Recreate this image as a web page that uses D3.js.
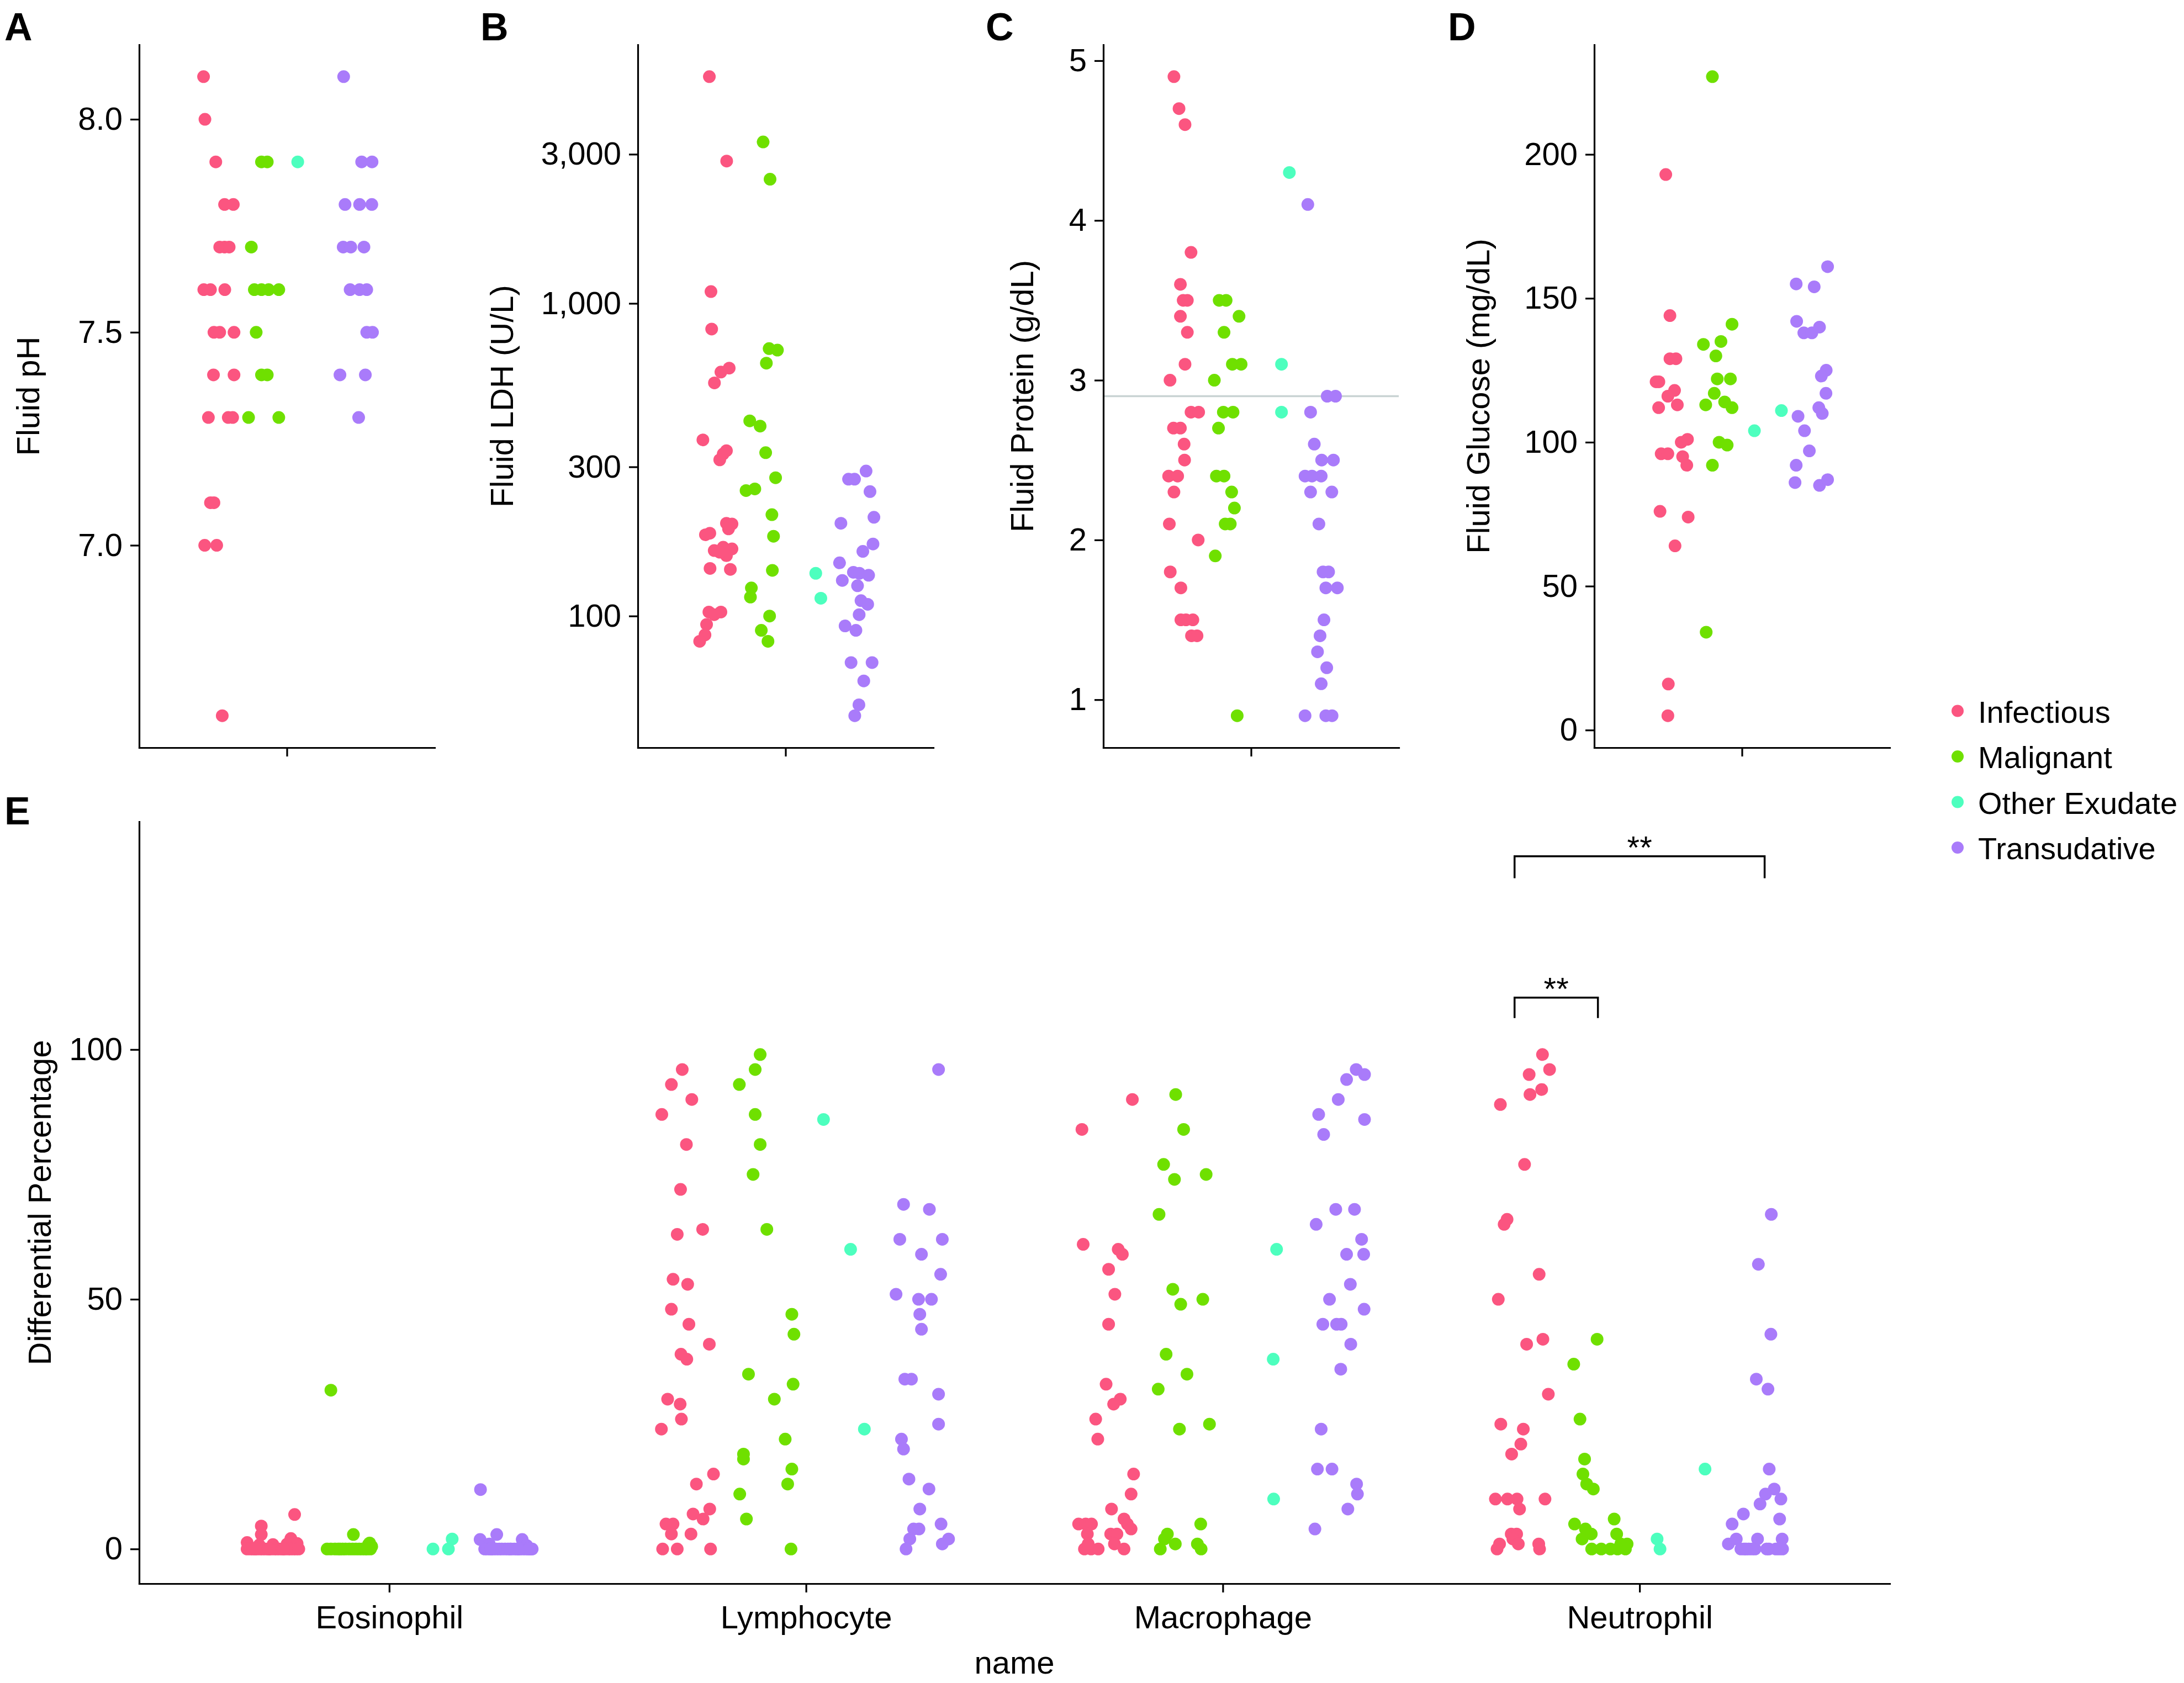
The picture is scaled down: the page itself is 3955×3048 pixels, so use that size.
<!DOCTYPE html>
<html>
<head>
<meta charset="utf-8">
<title>Pleural fluid chemistry and cell differential by diagnosis</title>
<script src="https://d3js.org/d3.v7.min.js"></script>
<style>
  body { margin: 0; background: #fff; }
  text { font-family: "Liberation Sans", Arial, Helvetica, sans-serif; fill: #000; }
</style>
</head>
<body>
<svg id="chart" width="3955" height="3048"></svg>
<script>
// diagnosis groups and their colours
var groups = ["Infectious", "Malignant", "Other Exudate", "Transudative"];
var groupColors = ["#fb5580", "#6fe000", "#4dffbe", "#a97bfa"];

// every point is [value, jitter]; jitter is the sideways offset
// (1 = half the distance between two neighbouring groups)

// A - fluid pH
var phInfectious = [[8.1,-0.61],[8.0,-0.55],[7.9,-0.08],[7.8,0.3],[7.8,0.68],[7.7,0.09],[7.7,0.3],[7.7,0.5],[7.6,-0.6],[7.6,-0.31],[7.6,0.31],[7.5,-0.16],[7.5,0.09],[7.5,0.71],[7.4,-0.18],[7.4,0.71],[7.3,-0.4],[7.3,0.46],[7.3,0.65],[7.1,-0.31],[7.1,-0.16],[7.0,-0.56],[7.0,-0.04],[6.6,0.2]];
var phMalignant = [[7.9,-0.1],[7.9,0.15],[7.7,-0.54],[7.6,-0.41],[7.6,-0.1],[7.6,0.21],[7.6,0.65],[7.5,-0.33],[7.4,-0.1],[7.4,0.15],[7.3,-0.66],[7.3,0.65]];
var phOther = [[7.9,-0.53]];
var phTransudative = [[8.1,-0.54],[7.9,0.24],[7.9,0.69],[7.8,-0.48],[7.8,0.15],[7.8,0.68],[7.7,-0.56],[7.7,-0.23],[7.7,0.34],[7.6,-0.26],[7.6,0.15],[7.6,0.46],[7.5,0.46],[7.5,0.71],[7.4,-0.7],[7.4,0.4],[7.3,0.11]];
var phTicks = [7.0, 7.5, 8.0];

// B - fluid LDH (U/L), log axis
var ldhInfectious = [[5312,-0.3],[2853,0.45],[1091,-0.23],[828,-0.2],[603,0.2],[621,0.56],[557,-0.08],[366,-0.58],[338,0.44],[330,0.3],[316,0.15],[198,0.44],[197,0.68],[190,0.53],[182,-0.47],[184,-0.28],[166,0.3],[162,-0.09],[164,0.68],[156,0.44],[160,0.15],[142,-0.27],[141,0.61],[103,-0.32],[101,-0.09],[103,0.2],[94,-0.42],[87,-0.49],[83,-0.72]];
var ldhMalignant = [[3285,0.03],[2496,0.33],[717,0.29],[709,0.65],[644,0.17],[421,-0.55],[405,-0.1],[333,0.14],[277,0.57],[252,-0.71],[255,-0.33],[211,0.41],[180,0.48],[140,0.43],[123,-0.48],[115,-0.52],[100,0.31],[90,-0.05],[83,0.24]];
var ldhOther = [[137,0.31],[114,0.53]];
var ldhTransudative = [[291,0.49],[274,-0.27],[274,-0.01],[250,0.66],[207,0.83],[198,-0.6],[170,0.79],[161,0.35],[148,-0.66],[138,-0.06],[137,0.2],[135,0.6],[130,-0.54],[125,0.12],[112,0.27],[109,0.56],[101,0.19],[93,-0.42],[90,0.05],[71,-0.16],[71,0.75],[62,0.39],[52,0.18],[48,0]];
var ldhTicks = [100, 300, 1000, 3000];

// C - fluid protein (g/dL)
var protInfectious = [[4.9,-0.34],[4.7,-0.12],[4.6,0.14],[3.8,0.4],[3.6,-0.06],[3.5,0.06],[3.5,0.24],[3.4,-0.06],[3.3,0.24],[3.1,0.14],[3.0,-0.51],[2.8,0.4],[2.8,0.73],[2.7,-0.36],[2.7,-0.06],[2.6,0.1],[2.5,0.12],[2.4,-0.57],[2.4,-0.18],[2.3,-0.34],[2.1,-0.54],[2.0,0.71],[1.8,-0.5],[1.7,-0.04],[1.5,-0.04],[1.5,0.18],[1.5,0.48],[1.4,0.42],[1.4,0.66]];
var protMalignant = [[3.5,-0.38],[3.5,-0.08],[3.4,0.48],[3.3,-0.17],[3.1,0.19],[3.1,0.57],[3.0,-0.59],[2.8,-0.2],[2.8,0.22],[2.7,-0.41],[2.4,-0.5],[2.4,-0.17],[2.3,0.16],[2.2,0.28],[2.1,-0.12],[2.1,0.1],[1.9,-0.55],[0.9,0.4]];
var protOther = [[4.3,0.66],[3.1,0.32],[2.8,0.32]];
var protTransudative = [[4.1,-0.54],[2.9,0.3],[2.9,0.66],[2.8,-0.42],[2.6,-0.26],[2.5,0.06],[2.5,0.57],[2.4,-0.66],[2.4,-0.36],[2.4,0.04],[2.3,-0.42],[2.3,0.5],[2.1,-0.06],[1.8,0.12],[1.8,0.36],[1.7,0.24],[1.7,0.74],[1.5,0.16],[1.4,-0.01],[1.3,-0.12],[1.2,0.28],[1.1,0.04],[0.9,-0.66],[0.9,0.24],[0.9,0.51]];
var protTicks = [1, 2, 3, 4, 5];
var protRefLine = 2.9;

// D - fluid glucose (mg/dL)
var gluInfectious = [[193,-0.3],[144,-0.12],[129,-0.12],[129,0.14],[121,-0.72],[121,-0.6],[118,0.08],[116,-0.21],[112,-0.61],[113,0.2],[100,0.37],[101,0.64],[96,-0.5],[96,-0.21],[95,0.43],[92,0.61],[76,-0.55],[74,0.67],[64,0.1],[16,-0.19],[5,-0.21]];
var gluMalignant = [[227,-0.28],[141,0.57],[134,-0.67],[135,0.09],[130,-0.13],[122,-0.07],[122,0.5],[117,-0.2],[113,-0.57],[114,0.25],[112,0.57],[100,0.01],[99,0.36],[92,-0.28],[34,-0.55]];
var gluOther = [[104,-0.46],[111,0.71]];
var gluTransudative = [[161,0.71],[155,-0.65],[154,0.13],[142,-0.63],[138,-0.32],[138,0.03],[140,0.36],[125,0.65],[123,0.44],[117,0.64],[112,0.33],[110,0.48],[109,-0.57],[104,-0.29],[97,-0.08],[92,-0.65],[86,-0.7],[85,0.36],[87,0.71]];
var gluTicks = [0, 50, 100, 150, 200];

// E - differential percentage by cell type
var cellTypes = ["Eosinophil", "Lymphocyte", "Macrophage", "Neutrophil"];
var eosInfectious = [[4.6,-0.07],[2.9,-0.07],[6.9,0.73],[2.1,0.64],[1.3,-0.41],[0.8,-0.12],[0.9,0.21],[1,0.55],[1.1,0.79],[0,-0.41],[0,-0.33],[0,-0.27],[0,-0.18],[0,-0.1],[0,-0.04],[0,0.03],[0,0.1],[0,0.16],[0,0.24],[0,0.3],[0,0.37],[0,0.43],[0,0.5],[0,0.58],[0,0.63],[0,0.7],[0,0.76],[0,0.83],[0,-0.22],[0,0.12],[0,0.46]];
var eosMalignant = [[31.8,-0.4],[2.9,0.14],[1.2,0.53],[0.9,0.5],[0.5,0.58],[0,-0.49],[0,-0.4],[0,-0.3],[0,-0.22],[0,-0.12],[0,-0.05],[0,0.04],[0,0.12],[0,0.2],[0,0.28],[0,0.35],[0,0.42],[0,0.47],[0,0.55],[0,-0.18]];
var eosOther = [[0,0.05],[0,0.42],[2,0.51]];
var eosTransudative = [[11.9,-0.81],[2.9,-0.42],[1.9,-0.82],[1.9,0.19],[1,-0.6],[0.7,0.3],[0,-0.71],[0,-0.65],[0,-0.58],[0,-0.5],[0,-0.43],[0,-0.36],[0,-0.3],[0,-0.22],[0,-0.15],[0,-0.08],[0,0],[0,0.06],[0,0.13],[0,0.2],[0,0.27],[0,0.33],[0,0.4],[0,0.43],[0,-0.55],[0,-0.1],[0,0.1],[0,0.36]];

var lymInfectious = [[96,0.03],[93,-0.23],[90,0.26],[87,-0.46],[81,0.13],[72,-0.01],[63,-0.09],[64,0.52],[54,-0.19],[53,0.16],[48,-0.23],[45,0.19],[41,0.68],[39,0],[38,0.14],[30,-0.32],[29,-0.02],[26,0.01],[24,-0.47],[15,0.78],[13,0.37],[8,0.69],[7,0.29],[6,0.53],[5,-0.36],[5,-0.19],[3,-0.23],[3,0.24],[0,-0.44],[0,-0.09],[0,0.71]];
var lymMalignant = [[99,-0.1],[96,-0.22],[93,-0.6],[87,-0.22],[81,-0.1],[75,-0.27],[64,0.06],[47,0.66],[43,0.71],[35,-0.38],[33,0.69],[30,0.24],[22,0.5],[19,-0.5],[18,-0.5],[16,0.66],[13,0.56],[11,-0.59],[6,-0.43],[0,0.64]];
var lymOther = [[86,-0.58],[60,0.07],[24,0.4]];
var lymTransudative = [[96,0.18],[69,-0.66],[68,-0.04],[62,-0.75],[62,0.27],[59,-0.23],[55,0.23],[51,-0.84],[50,-0.3],[50,0.01],[47,-0.27],[44,-0.23],[34,-0.63],[34,-0.47],[31,0.18],[25,0.18],[22,-0.71],[20,-0.66],[14,-0.53],[12,-0.05],[8,-0.27],[5,0.24],[4,-0.42],[4,-0.29],[2,-0.51],[2,0.42],[1,0.27],[0,-0.6]];

var macInfectious = [[90,0.83],[84,-0.38],[61,-0.35],[60,0.49],[59,0.59],[56,0.26],[51,0.41],[45,0.26],[33,0.2],[30,0.54],[29,0.38],[26,-0.05],[22,0],[15,0.86],[11,0.8],[8,0.33],[6,0.63],[5,0.71],[4,0.8],[5,-0.46],[5,-0.29],[5,-0.15],[3,-0.25],[3,0.31],[3,0.46],[0,-0.32],[0,-0.16],[0,0.01],[1,-0.23],[1,0.4],[0,0.63]];
var macMalignant = [[91,-0.13],[84,0.06],[77,-0.42],[74,-0.16],[75,0.6],[67,-0.53],[52,-0.2],[49,-0.01],[50,0.52],[39,-0.36],[35,0.14],[32,-0.55],[24,-0.04],[25,0.68],[5,0.47],[3,-0.33],[2,-0.4],[1,-0.14],[1,0.39],[0,-0.5],[0,0.48]];
var macOther = [[60,0.29],[38,0.21],[10,0.22]];
var macTransudative = [[96,0.2],[95,0.4],[94,-0.03],[90,-0.23],[87,-0.7],[86,0.4],[83,-0.58],[68,-0.29],[68,0.16],[65,-0.76],[62,0.33],[59,-0.03],[59,0.38],[53,0.06],[50,-0.44],[48,0.39],[45,-0.6],[45,-0.27],[45,-0.16],[41,0.07],[36,-0.17],[24,-0.64],[16,-0.73],[16,-0.38],[13,0.21],[11,0.23],[8,0],[4,-0.79]];

var neuInfectious = [[99,0.67],[96,0.84],[95,0.35],[92,0.65],[91,0.37],[89,-0.34],[77,0.24],[66,-0.18],[65,-0.25],[55,0.59],[50,-0.39],[42,0.68],[41,0.29],[31,0.81],[25,-0.33],[24,0.21],[21,0.15],[19,-0.07],[10,-0.46],[10,-0.17],[10,0.06],[10,0.73],[8,0.12],[3,-0.08],[3,0.05],[2,-0.04],[1,0.09],[1,-0.36],[0,-0.42],[1,0.58],[0,0.6]];
var neuMalignant = [[42,-0.02],[37,-0.58],[26,-0.43],[18,-0.32],[15,-0.36],[13,-0.27],[12,-0.11],[6,0.39],[5,-0.56],[4,-0.3],[3,-0.16],[3,0.45],[2,-0.38],[1,0.7],[1,0.55],[0,-0.15],[0,0.08],[0,0.47],[0,0.66],[0,0.3]];
var neuOther = [[16,0.57],[2,-0.58],[0,-0.51]];
var neuTransudative = [[67,0.16],[57,-0.15],[43,0.15],[34,-0.2],[32,0.08],[16,0.11],[12,0.23],[11,0.02],[10,0.39],[9,-0.11],[6,0.36],[7,-0.51],[5,-0.78],[2,-0.17],[2,0.42],[1,-0.87],[2,-0.68],[0,-0.57],[0,-0.38],[0,-0.23],[0,0.1],[0,0.43],[0,-0.49],[0,-0.3],[0,0.27],[0,-0.45],[0,0.05],[0,0.35]];
var diffTicks = [0, 50, 100];

// significance brackets in E (heights in percent units)
var sigBrackets = [
  {cell: "Neutrophil", from: "Infectious", to: "Transudative", y: 138.7, tipTo: 134.3, label: "**"},
  {cell: "Neutrophil", from: "Infectious", to: "Malignant", y: 110.4, tipTo: 106.3, label: "**"}
];

var svg = d3.select("#chart");
var FONT = 58;
var R = 11.5;

// ggplot-like 5% expansion
function expand(lo, hi) { var e = (hi - lo) * 0.05; return [lo - e, hi + e]; }

function drawPanel(p) {
  var g = svg.append("g");
  var vals = [];
  p.cells.forEach(function(c) { c.series.forEach(function(s) { s.forEach(function(d) { vals.push(d[0]); }); }); });
  if (p.extra) vals = vals.concat(p.extra);
  var ext = d3.extent(vals);
  var y;
  if (p.log) {
    var ld = expand(Math.log10(ext[0]), Math.log10(ext[1]));
    y = d3.scaleLog().domain([Math.pow(10, ld[0]), Math.pow(10, ld[1])]).range([p.bottom, p.top]);
  } else {
    y = d3.scaleLinear().domain(expand(ext[0], ext[1])).range([p.bottom, p.top]);
  }
  var x = d3.scalePoint().domain(p.cells.map(function(c) { return c.name; }))
    .range([p.left, p.right]).padding(0.6);
  var dodgeW = x.step() * p.dodge;

  // reference line (panel C)
  if (p.refLine != null) {
    g.append("line")
      .attr("x1", p.left).attr("x2", p.right)
      .attr("y1", y(p.refLine)).attr("y2", y(p.refLine))
      .attr("stroke", "#c9d3d3").attr("stroke-width", 3.5);
  }

  var dodges = {};
  p.cells.forEach(function(c) {
    var cx = x(c.name);
    var dodge = d3.scaleBand().domain(groups).range([cx - dodgeW / 2, cx + dodgeW / 2]);
    dodges[c.name] = dodge;
    c.series.forEach(function(s, i) {
      var half = dodge.bandwidth() / 2;
      g.append("g").selectAll("circle").data(s).enter().append("circle")
        .attr("cx", function(d) { return dodge(groups[i]) + half + d[1] * half; })
        .attr("cy", function(d) { return y(d[0]); })
        .attr("r", R)
        .attr("fill", groupColors[i]);
    });
  });

  // axes
  var ya = g.append("g").attr("transform", "translate(" + p.left + ",0)")
    .call(d3.axisLeft(y).tickValues(p.ticks).tickFormat(p.fmt).tickSize(16).tickSizeOuter(0).tickPadding(14));
  var xa = g.append("g").attr("transform", "translate(0," + p.bottom + ")")
    .call(d3.axisBottom(x).tickSize(16).tickSizeOuter(0).tickPadding(24)
      .tickFormat(p.xLabels ? null : function() { return ""; }));
  [ya, xa].forEach(function(a) {
    a.select(".domain").attr("stroke", "#000").attr("stroke-width", 3.2).attr("stroke-linecap", "square");
    a.selectAll(".tick line").attr("stroke", "#000").attr("stroke-width", 3.2);
    a.selectAll(".tick text").attr("font-size", FONT).attr("fill", "#000")
      .attr("font-family", "'Liberation Sans', Arial, sans-serif");
  });

  // y title
  g.append("text")
    .attr("transform", "translate(" + (p.left + p.titleDx) + "," + ((p.top + p.bottom) / 2) + ") rotate(-90)")
    .attr("text-anchor", "middle").attr("font-size", FONT)
    .text(p.title);

  // panel letter
  g.append("text").attr("x", p.letterX).attr("y", p.letterY)
    .attr("font-size", 70).attr("font-weight", "bold").text(p.letter);

  return {x: x, y: y, dodges: dodges, g: g};
}

var fmt1 = d3.format(".1f"), fmtComma = d3.format(","), fmtInt = d3.format("d");

drawPanel({letter: "A", letterX: 8, letterY: 73, left: 252, right: 787, top: 81, bottom: 1354,
  cells: [{name: "", series: [phInfectious, phMalignant, phOther, phTransudative]}],
  ticks: phTicks, fmt: fmt1, title: "Fluid pH", titleDx: -181.5, dodge: 0.75});

drawPanel({letter: "B", letterX: 870, letterY: 73, left: 1155, right: 1690, top: 81, bottom: 1354, log: true,
  cells: [{name: "", series: [ldhInfectious, ldhMalignant, ldhOther, ldhTransudative]}],
  ticks: ldhTicks, fmt: fmtComma, title: "Fluid LDH (U/L)", titleDx: -226, dodge: 0.75});

drawPanel({letter: "C", letterX: 1785, letterY: 73, left: 1998, right: 2533, top: 81, bottom: 1354,
  cells: [{name: "", series: [protInfectious, protMalignant, protOther, protTransudative]}],
  ticks: protTicks, fmt: fmtInt, title: "Fluid Protein (g/dL)", titleDx: -127, dodge: 0.75, refLine: protRefLine});

drawPanel({letter: "D", letterX: 2622, letterY: 73, left: 2887, right: 3422, top: 81, bottom: 1354,
  cells: [{name: "", series: [gluInfectious, gluMalignant, gluOther, gluTransudative]}],
  ticks: gluTicks, fmt: fmtInt, title: "Fluid Glucose (mg/dL)", titleDx: -190, dodge: 0.75});

var e = drawPanel({letter: "E", letterX: 8, letterY: 1493, left: 252, right: 3422, top: 1488, bottom: 2868,
  cells: [
    {name: cellTypes[0], series: [eosInfectious, eosMalignant, eosOther, eosTransudative]},
    {name: cellTypes[1], series: [lymInfectious, lymMalignant, lymOther, lymTransudative]},
    {name: cellTypes[2], series: [macInfectious, macMalignant, macOther, macTransudative]},
    {name: cellTypes[3], series: [neuInfectious, neuMalignant, neuOther, neuTransudative]}
  ],
  extra: sigBrackets.map(function(b) { return b.y; }),
  ticks: diffTicks, fmt: fmtInt, title: "Differential Percentage", titleDx: -160, dodge: 0.8, xLabels: true});

// x title of E
svg.append("text").attr("x", (252 + 3422) / 2).attr("y", 3031)
  .attr("text-anchor", "middle").attr("font-size", FONT).text("name");

// significance brackets
sigBrackets.forEach(function(b) {
  var d = e.dodges[b.cell], hb = d.bandwidth() / 2;
  var x1 = d(b.from) + hb, x2 = d(b.to) + hb;
  var y0 = e.y(b.y), y1 = e.y(b.tipTo);
  e.g.append("path")
    .attr("d", "M" + x1 + "," + y1 + "V" + y0 + "H" + x2 + "V" + y1)
    .attr("fill", "none").attr("stroke", "#000").attr("stroke-width", 3.5);
  e.g.append("text").attr("x", (x1 + x2) / 2).attr("y", y0 + 4)
    .attr("text-anchor", "middle").attr("font-size", FONT).text(b.label);
});

// legend (slightly smaller text so "Other Exudate" stays inside the page)
var leg = svg.append("g").attr("transform", "translate(3545,1287.5)");
groups.forEach(function(name, i) {
  var row = leg.append("g").attr("transform", "translate(0," + (i * 82.5) + ")");
  row.append("circle").attr("r", 11).attr("fill", groupColors[i]);
  row.append("text").attr("x", 37).attr("y", 21).attr("font-size", 56).text(name);
});
</script>
</body>
</html>
